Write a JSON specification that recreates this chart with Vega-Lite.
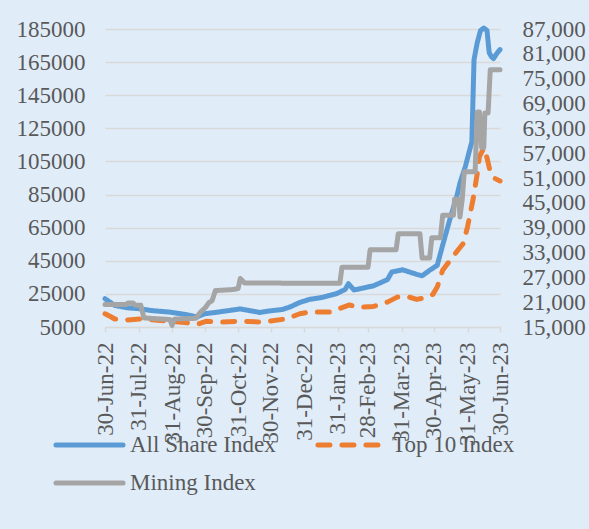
{
  "$schema": "https://vega.github.io/schema/vega-lite/v6.json",
  "width": 395,
  "height": 298,
  "autosize": {"type": "none"},
  "padding": {"left": 105, "top": 29, "right": 89, "bottom": 202},
  "background": "#e0edf9",
  "config": {
    "font": "Liberation Serif",
    "view": {"stroke": null},
    "axis": {"labelFont": "Liberation Serif", "labelFontSize": 23, "labelColor": "#595959", "title": null},
    "legend": {
      "orient": "none",
      "direction": "horizontal",
      "legendX": -52,
      "legendY": 403,
      "columns": 2,
      "columnPadding": 39,
      "rowPadding": 12,
      "clipHeight": 26,
      "padding": 0,
      "symbolType": "stroke",
      "symbolSize": 4500,
      "symbolStrokeWidth": 5,
      "labelFont": "Liberation Serif",
      "labelFontSize": 23,
      "labelColor": "#595959",
      "labelOffset": 4,
      "labelLimit": 300
    }
  },
  "data": {
    "values": [
      {"date": "2022-06-30", "series": "All Share Index", "value": 22090},
      {"date": "2022-07-05", "series": "All Share Index", "value": 19850},
      {"date": "2022-07-09", "series": "All Share Index", "value": 18030},
      {"date": "2022-07-20", "series": "All Share Index", "value": 16640},
      {"date": "2022-08-01", "series": "All Share Index", "value": 16030},
      {"date": "2022-08-11", "series": "All Share Index", "value": 15000},
      {"date": "2022-08-29", "series": "All Share Index", "value": 13970},
      {"date": "2022-09-12", "series": "All Share Index", "value": 12580},
      {"date": "2022-09-23", "series": "All Share Index", "value": 11060},
      {"date": "2022-09-30", "series": "All Share Index", "value": 13000},
      {"date": "2022-10-10", "series": "All Share Index", "value": 13790},
      {"date": "2022-11-02", "series": "All Share Index", "value": 15910},
      {"date": "2022-11-20", "series": "All Share Index", "value": 13790},
      {"date": "2022-11-29", "series": "All Share Index", "value": 14700},
      {"date": "2022-12-11", "series": "All Share Index", "value": 15600},
      {"date": "2022-12-18", "series": "All Share Index", "value": 17120},
      {"date": "2022-12-27", "series": "All Share Index", "value": 19850},
      {"date": "2023-01-05", "series": "All Share Index", "value": 21670},
      {"date": "2023-01-17", "series": "All Share Index", "value": 22880},
      {"date": "2023-01-30", "series": "All Share Index", "value": 25120},
      {"date": "2023-02-07", "series": "All Share Index", "value": 27730},
      {"date": "2023-02-10", "series": "All Share Index", "value": 31180},
      {"date": "2023-02-15", "series": "All Share Index", "value": 27420},
      {"date": "2023-02-18", "series": "All Share Index", "value": 27730},
      {"date": "2023-03-05", "series": "All Share Index", "value": 29850},
      {"date": "2023-03-18", "series": "All Share Index", "value": 33610},
      {"date": "2023-03-22", "series": "All Share Index", "value": 38210},
      {"date": "2023-04-01", "series": "All Share Index", "value": 39550},
      {"date": "2023-04-14", "series": "All Share Index", "value": 36820},
      {"date": "2023-04-19", "series": "All Share Index", "value": 35910},
      {"date": "2023-04-26", "series": "All Share Index", "value": 39240},
      {"date": "2023-05-03", "series": "All Share Index", "value": 42270},
      {"date": "2023-05-08", "series": "All Share Index", "value": 54390},
      {"date": "2023-05-15", "series": "All Share Index", "value": 70760},
      {"date": "2023-05-21", "series": "All Share Index", "value": 83670},
      {"date": "2023-05-24", "series": "All Share Index", "value": 91970},
      {"date": "2023-05-29", "series": "All Share Index", "value": 102000},
      {"date": "2023-06-02", "series": "All Share Index", "value": 111970},
      {"date": "2023-06-04", "series": "All Share Index", "value": 117000},
      {"date": "2023-06-06", "series": "All Share Index", "value": 166520},
      {"date": "2023-06-09", "series": "All Share Index", "value": 176820},
      {"date": "2023-06-12", "series": "All Share Index", "value": 184090},
      {"date": "2023-06-15", "series": "All Share Index", "value": 185600},
      {"date": "2023-06-18", "series": "All Share Index", "value": 184090},
      {"date": "2023-06-20", "series": "All Share Index", "value": 170760},
      {"date": "2023-06-22", "series": "All Share Index", "value": 168330},
      {"date": "2023-06-24", "series": "All Share Index", "value": 167120},
      {"date": "2023-06-27", "series": "All Share Index", "value": 170150},
      {"date": "2023-06-30", "series": "All Share Index", "value": 172580},
      {"date": "2022-06-30", "series": "Top 10 Index", "value": 13000},
      {"date": "2022-07-05", "series": "Top 10 Index", "value": 11360},
      {"date": "2022-07-09", "series": "Top 10 Index", "value": 9850},
      {"date": "2022-07-20", "series": "Top 10 Index", "value": 9240},
      {"date": "2022-08-01", "series": "Top 10 Index", "value": 9850},
      {"date": "2022-08-20", "series": "Top 10 Index", "value": 8940},
      {"date": "2022-09-12", "series": "Top 10 Index", "value": 7730},
      {"date": "2022-09-23", "series": "Top 10 Index", "value": 6520},
      {"date": "2022-10-02", "series": "Top 10 Index", "value": 8520},
      {"date": "2022-10-14", "series": "Top 10 Index", "value": 7910},
      {"date": "2022-11-02", "series": "Top 10 Index", "value": 8520},
      {"date": "2022-11-23", "series": "Top 10 Index", "value": 7910},
      {"date": "2022-12-15", "series": "Top 10 Index", "value": 9970},
      {"date": "2022-12-27", "series": "Top 10 Index", "value": 13000},
      {"date": "2023-01-05", "series": "Top 10 Index", "value": 14090},
      {"date": "2023-01-24", "series": "Top 10 Index", "value": 14090},
      {"date": "2023-02-02", "series": "Top 10 Index", "value": 16210},
      {"date": "2023-02-11", "series": "Top 10 Index", "value": 18330},
      {"date": "2023-02-18", "series": "Top 10 Index", "value": 16820},
      {"date": "2023-03-05", "series": "Top 10 Index", "value": 17420},
      {"date": "2023-03-18", "series": "Top 10 Index", "value": 20030},
      {"date": "2023-03-27", "series": "Top 10 Index", "value": 23060},
      {"date": "2023-04-05", "series": "Top 10 Index", "value": 23480},
      {"date": "2023-04-14", "series": "Top 10 Index", "value": 21670},
      {"date": "2023-04-24", "series": "Top 10 Index", "value": 22880},
      {"date": "2023-04-29", "series": "Top 10 Index", "value": 24700},
      {"date": "2023-05-03", "series": "Top 10 Index", "value": 29120},
      {"date": "2023-05-08", "series": "Top 10 Index", "value": 39240},
      {"date": "2023-05-15", "series": "Top 10 Index", "value": 45300},
      {"date": "2023-05-22", "series": "Top 10 Index", "value": 51360},
      {"date": "2023-05-27", "series": "Top 10 Index", "value": 55420},
      {"date": "2023-05-31", "series": "Top 10 Index", "value": 65490},
      {"date": "2023-06-05", "series": "Top 10 Index", "value": 81670},
      {"date": "2023-06-09", "series": "Top 10 Index", "value": 97850},
      {"date": "2023-06-11", "series": "Top 10 Index", "value": 107910},
      {"date": "2023-06-15", "series": "Top 10 Index", "value": 113180},
      {"date": "2023-06-18", "series": "Top 10 Index", "value": 107120},
      {"date": "2023-06-21", "series": "Top 10 Index", "value": 98640},
      {"date": "2023-06-25", "series": "Top 10 Index", "value": 94820},
      {"date": "2023-06-30", "series": "Top 10 Index", "value": 93180},
      {"date": "2022-06-30", "series": "Mining Index", "value": 20410},
      {"date": "2022-07-19", "series": "Mining Index", "value": 20410},
      {"date": "2022-07-21", "series": "Mining Index", "value": 20770},
      {"date": "2022-07-26", "series": "Mining Index", "value": 20770},
      {"date": "2022-07-28", "series": "Mining Index", "value": 20280},
      {"date": "2022-08-02", "series": "Mining Index", "value": 20280},
      {"date": "2022-08-05", "series": "Mining Index", "value": 17200},
      {"date": "2022-08-29", "series": "Mining Index", "value": 16800},
      {"date": "2022-08-31", "series": "Mining Index", "value": 15400},
      {"date": "2022-09-02", "series": "Mining Index", "value": 16900},
      {"date": "2022-09-22", "series": "Mining Index", "value": 17100},
      {"date": "2022-09-26", "series": "Mining Index", "value": 18540},
      {"date": "2022-10-01", "series": "Mining Index", "value": 19750},
      {"date": "2022-10-04", "series": "Mining Index", "value": 20890},
      {"date": "2022-10-07", "series": "Mining Index", "value": 21380},
      {"date": "2022-10-10", "series": "Mining Index", "value": 23800},
      {"date": "2022-10-26", "series": "Mining Index", "value": 24040},
      {"date": "2022-10-31", "series": "Mining Index", "value": 24280},
      {"date": "2022-11-02", "series": "Mining Index", "value": 26710},
      {"date": "2022-11-06", "series": "Mining Index", "value": 25620},
      {"date": "2023-02-02", "series": "Mining Index", "value": 25570},
      {"date": "2023-02-04", "series": "Mining Index", "value": 29450},
      {"date": "2023-02-28", "series": "Mining Index", "value": 29450},
      {"date": "2023-03-02", "series": "Mining Index", "value": 33670},
      {"date": "2023-03-26", "series": "Mining Index", "value": 33670},
      {"date": "2023-03-28", "series": "Mining Index", "value": 37550},
      {"date": "2023-04-17", "series": "Mining Index", "value": 37550},
      {"date": "2023-04-19", "series": "Mining Index", "value": 31680},
      {"date": "2023-04-26", "series": "Mining Index", "value": 31680},
      {"date": "2023-04-28", "series": "Mining Index", "value": 36580},
      {"date": "2023-05-06", "series": "Mining Index", "value": 36580},
      {"date": "2023-05-08", "series": "Mining Index", "value": 41980},
      {"date": "2023-05-18", "series": "Mining Index", "value": 41980},
      {"date": "2023-05-19", "series": "Mining Index", "value": 45860},
      {"date": "2023-05-23", "series": "Mining Index", "value": 45860},
      {"date": "2023-05-24", "series": "Mining Index", "value": 41570},
      {"date": "2023-05-26", "series": "Mining Index", "value": 45620},
      {"date": "2023-05-28", "series": "Mining Index", "value": 52480},
      {"date": "2023-06-07", "series": "Mining Index", "value": 52480},
      {"date": "2023-06-09", "series": "Mining Index", "value": 66950},
      {"date": "2023-06-11", "series": "Mining Index", "value": 66950},
      {"date": "2023-06-13", "series": "Mining Index", "value": 58340},
      {"date": "2023-06-15", "series": "Mining Index", "value": 58340},
      {"date": "2023-06-16", "series": "Mining Index", "value": 66710},
      {"date": "2023-06-19", "series": "Mining Index", "value": 66710},
      {"date": "2023-06-21", "series": "Mining Index", "value": 77130},
      {"date": "2023-06-30", "series": "Mining Index", "value": 77130}
    ]
  },
  "encoding": {
    "x": {
      "field": "date",
      "type": "temporal",
      "scale": {
        "type": "utc",
        "domain": [
          {"year": 2022, "month": 6, "date": 30, "utc": true},
          {"year": 2023, "month": 6, "date": 30, "utc": true}
        ],
        "nice": false
      },
      "axis": {
        "values": [
          {"year": 2022, "month": 6, "date": 30, "utc": true},
          {"year": 2022, "month": 7, "date": 31, "utc": true},
          {"year": 2022, "month": 8, "date": 31, "utc": true},
          {"year": 2022, "month": 9, "date": 30, "utc": true},
          {"year": 2022, "month": 10, "date": 31, "utc": true},
          {"year": 2022, "month": 11, "date": 30, "utc": true},
          {"year": 2022, "month": 12, "date": 31, "utc": true},
          {"year": 2023, "month": 1, "date": 31, "utc": true},
          {"year": 2023, "month": 2, "date": 28, "utc": true},
          {"year": 2023, "month": 3, "date": 31, "utc": true},
          {"year": 2023, "month": 4, "date": 30, "utc": true},
          {"year": 2023, "month": 5, "date": 31, "utc": true},
          {"year": 2023, "month": 6, "date": 30, "utc": true}
        ],
        "format": "%d-%b-%y",
        "labelAngle": -90,
        "labelOverlap": false,
        "labelFlush": false,
        "labelBound": false,
        "grid": false,
        "domainColor": "#d9d9d9",
        "domainWidth": 1.5,
        "tickColor": "#d9d9d9",
        "tickWidth": 1.5,
        "tickSize": 5,
        "labelPadding": 10
      }
    }
  },
  "layer": [
    {
      "transform": [{"filter": "datum.series !== 'Mining Index'"}],
      "mark": {"type": "line", "strokeWidth": 5, "strokeCap": "round", "strokeJoin": "round"},
      "encoding": {
        "y": {
          "field": "value",
          "type": "quantitative",
          "scale": {"domain": [5000, 185000], "nice": false, "zero": false},
          "axis": {
            "values": [5000, 25000, 45000, 65000, 85000, 105000, 125000, 145000, 165000, 185000],
            "format": "d",
            "grid": true,
            "gridColor": "#d9d9d9",
            "gridWidth": 1.5,
            "domain": false,
            "ticks": false,
            "labelPadding": 20
          }
        },
        "color": {
          "field": "series",
          "type": "nominal",
          "sort": ["All Share Index", "Top 10 Index", "Mining Index"],
          "scale": {
            "domain": ["All Share Index", "Top 10 Index", "Mining Index"],
            "range": ["#5b9bd5", "#ed7d31", "#a5a5a5"]
          },
          "legend": {"title": null, "encode": {"symbols": {"update": {"strokeCap": {"value": "round"}}}}}
        },
        "strokeDash": {
          "field": "series",
          "type": "nominal",
          "sort": ["All Share Index", "Top 10 Index", "Mining Index"],
          "scale": {
            "domain": ["All Share Index", "Top 10 Index", "Mining Index"],
            "range": [[1, 0], [12, 12], [1, 0]]
          },
          "legend": {"title": null}
        }
      }
    },
    {
      "transform": [{"filter": "datum.series === 'Mining Index'"}],
      "mark": {"type": "line", "strokeWidth": 5, "strokeCap": "round", "strokeJoin": "round"},
      "encoding": {
        "y": {
          "field": "value",
          "type": "quantitative",
          "scale": {"domain": [15000, 87000], "nice": false, "zero": false},
          "axis": {
            "orient": "right",
            "values": [15000, 21000, 27000, 33000, 39000, 45000, 51000, 57000, 63000, 69000, 75000, 81000, 87000],
            "format": ",d",
            "grid": false,
            "domain": false,
            "ticks": false,
            "labelPadding": 22
          }
        },
        "color": {
          "field": "series",
          "type": "nominal",
          "sort": ["All Share Index", "Top 10 Index", "Mining Index"],
          "scale": {
            "domain": ["All Share Index", "Top 10 Index", "Mining Index"],
            "range": ["#5b9bd5", "#ed7d31", "#a5a5a5"]
          },
          "legend": {"title": null}
        },
        "strokeDash": {
          "field": "series",
          "type": "nominal",
          "sort": ["All Share Index", "Top 10 Index", "Mining Index"],
          "scale": {
            "domain": ["All Share Index", "Top 10 Index", "Mining Index"],
            "range": [[1, 0], [12, 12], [1, 0]]
          },
          "legend": {"title": null}
        }
      }
    }
  ],
  "resolve": {"scale": {"y": "independent"}}
}
